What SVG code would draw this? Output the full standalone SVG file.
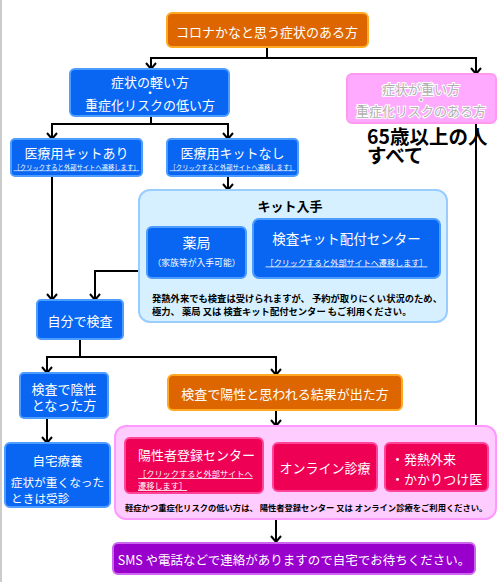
<svg xmlns="http://www.w3.org/2000/svg" width="500" height="582" viewBox="0 0 500 582">
<style>
text{font-family:"Noto Sans CJK JP","Noto Sans",sans-serif;dominant-baseline:central}
.c{text-anchor:middle}
.w{fill:#fff;font-size:13px}
.lk{fill:#fff;text-decoration:underline}
.note{fill:#000;font-weight:bold}
.blue{fill:#0866f2;stroke:#4d9cff;stroke-width:2}
.orange{fill:#dd6600;stroke:#ffaa22;stroke-width:2}
.red{fill:#ee0055;stroke:#ff4499;stroke-width:2}
.conn path{fill:none;stroke:#000;stroke-width:2}
.arr{marker-end:url(#ah)}
.dot{font-size:12px}
</style>
<defs>
<marker id="ah" markerUnits="userSpaceOnUse" markerWidth="12" markerHeight="12" refX="7" refY="6" orient="auto" viewBox="0 0 12 12">
<path d="M1,1 L7,6 L1,11" fill="none" stroke="#000" stroke-width="2"/>
</marker>
</defs>
<rect width="500" height="582" fill="#fff"/>
<line x1="1" y1="0" x2="1" y2="582" stroke="#cccccc" stroke-width="2"/>

<g id="connectors" class="conn">
<path d="M267,47 V58"/>
<path class="arr" d="M267,58 H151 V69"/>
<path class="arr" d="M267,58 H476 V74"/>
<path d="M151,116 V124"/>
<path class="arr" d="M151,124 H52 V139"/>
<path class="arr" d="M151,124 H228 V139"/>
<path class="arr" d="M228,176 V190"/>
<path class="arr" d="M52,176 V300"/>
<path class="arr" d="M139,271 H95 V300"/>
<path d="M80,339 V357"/>
<path class="arr" d="M80,357 H47 V373"/>
<path class="arr" d="M80,357 H276 V375"/>
<path class="arr" d="M47,418 V443"/>
<path class="arr" d="M276,410 V426"/>
<path class="arr" d="M476,123 V443"/>
<path class="arr" d="M276,519 V542"/>
</g>

<g id="n-start">
<rect class="orange" x="167" y="13" width="201" height="34" rx="5"/>
<text class="w c" x="267" y="31">コロナかなと思う症状のある方</text>
</g>

<g id="n-mild">
<rect class="blue" x="70" y="69" width="159" height="47" rx="5"/>
<text class="w c" x="150" y="81">症状の軽い方</text>
<text class="w c dot" x="150" y="92">・</text>
<text class="w c" x="150" y="104">重症化リスクの低い方</text>
</g>

<g id="n-severe">
<rect x="347" y="74" width="149" height="49" rx="5" fill="#ffaaff" stroke="#ff99ee" stroke-width="2"/>
<g style="fill:#b0b0b0;stroke:#fff;stroke-width:2;paint-order:stroke;font-size:13px">
<text class="c" x="421" y="88">症状が重い方</text>
<text class="c dot" x="421" y="99">・</text>
<text class="c" x="421" y="110">重症化リスクのある方</text>
</g>
</g>

<g id="t-65">
<text x="367" y="135" style="font-size:19.5px;font-weight:bold;fill:#000">65歳以上の人</text>
<text x="367" y="154" style="font-size:19.5px;font-weight:bold;fill:#000">すべて</text>
</g>

<g id="n-kit-yes">
<rect class="blue" x="11" y="139" width="131" height="37" rx="4"/>
<text class="w c" x="76.5" y="152">医療用キットあり</text>
<text class="lk c" x="76.5" y="167" style="font-size:6.3px">［クリックすると外部サイトへ遷移します］</text>
</g>

<g id="n-kit-no">
<rect class="blue" x="167" y="139" width="131" height="37" rx="4"/>
<text class="w c" x="232.5" y="152">医療用キットなし</text>
<text class="lk c" x="232.5" y="167" style="font-size:6.3px">［クリックすると外部サイトへ遷移します］</text>
</g>

<g id="n-kit-get">
<rect x="139" y="190" width="308" height="132" rx="11" fill="#d6f0ff" stroke="#99ccff" stroke-width="2"/>
<text class="c" x="290" y="205" style="font-size:13px;font-weight:bold;fill:#000">キット入手</text>
<text class="note" x="152" y="298" style="font-size:9.3px">発熱外来でも検査は受けられますが、 予約が取りにくい状況のため、</text>
<text class="note" x="152" y="311" style="font-size:9.3px">極力、 薬局 又は 検査キット配付センター もご利用ください。</text>
</g>

<g id="n-pharmacy">
<rect class="blue" x="147" y="227" width="99" height="51" rx="5"/>
<text class="w c" x="196.5" y="242" style="font-size:14px">薬局</text>
<text class="c" x="196.5" y="262" style="font-size:8.8px;fill:#fff">（家族等が入手可能）</text>
</g>

<g id="n-center">
<rect class="blue" x="253" y="219" width="187" height="59" rx="6"/>
<text class="w c" x="346.5" y="238" style="font-size:13.5px">検査キット配付センター</text>
<text class="lk c" x="346.5" y="262" style="font-size:8.1px">［クリックすると外部サイトへ遷移します］</text>
</g>

<g id="n-self">
<rect class="blue" x="37" y="300" width="86" height="39" rx="4"/>
<text class="w c" x="80" y="320">自分で検査</text>
</g>

<g id="n-negative">
<rect class="blue" x="20" y="373" width="88" height="45" rx="4"/>
<text class="w c" x="64" y="388">検査で陰性</text>
<text class="w c" x="64" y="404">となった方</text>
</g>

<g id="n-positive">
<rect class="orange" x="168" y="375" width="234" height="35" rx="5"/>
<text class="w c" x="285" y="393">検査で陽性と思われる結果が出た方</text>
</g>

<g id="n-home">
<rect class="blue" x="5" y="443" width="105" height="64" rx="5"/>
<text class="w c" x="57.5" y="460" style="font-size:12.5px">自宅療養</text>
<text class="w c" x="57.5" y="481" style="font-size:11.7px">症状が重くなった</text>
<text class="w" x="11" y="497" style="font-size:11.7px">ときは受診</text>
</g>

<g id="n-options">
<rect x="115" y="426" width="381" height="93" rx="11" fill="#ffccff" stroke="#ff99ff" stroke-width="2"/>
<text class="note" x="125" y="507" style="font-size:8.3px">軽症かつ重症化リスクの低い方は、 陽性者登録センター 又は オンライン診療をご利用ください。</text>
</g>

<g id="n-registration">
<rect class="red" x="125" y="438" width="138" height="55" rx="5"/>
<text class="w" x="138" y="454">陽性者登録センター</text>
<text class="lk" x="138" y="473" style="font-size:8.2px">［クリックすると外部サイトへ</text>
<text class="lk" x="138" y="485" style="font-size:8.2px">遷移します］</text>
</g>

<g id="n-online">
<rect class="red" x="273" y="443" width="104" height="48" rx="5"/>
<text class="w c" x="325" y="467">オンライン診療</text>
</g>

<g id="n-fever">
<rect class="red" x="385" y="443" width="103" height="48" rx="5"/>
<text class="w" x="391" y="458">・発熱外来</text>
<text class="w" x="391" y="478">・かかりつけ医</text>
</g>

<g id="n-wait">
<rect x="113" y="543" width="362" height="31" rx="5" fill="#9900cc" stroke="#cc66ee" stroke-width="2"/>
<text class="w c" x="294" y="559" style="font-size:12.5px">SMS や電話などで連絡がありますので自宅でお待ちください。</text>
</g>
</svg>
